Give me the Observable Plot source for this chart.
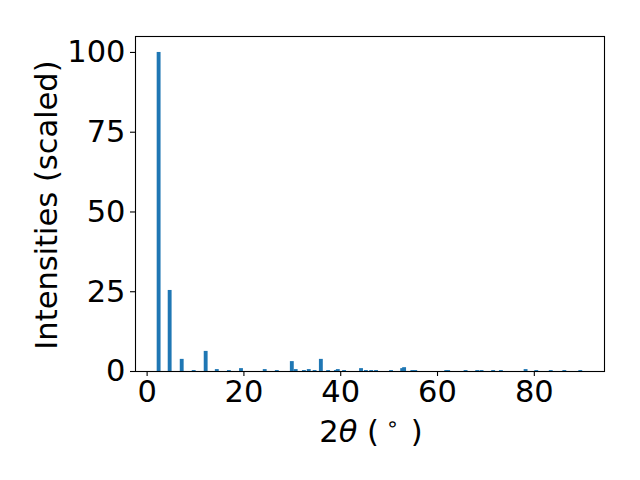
<!DOCTYPE html>
<html><head><meta charset="utf-8">
<script src="https://cdn.jsdelivr.net/npm/d3@7"></script>
<script src="https://cdn.jsdelivr.net/npm/@observablehq/plot@0.6"></script>
<style>body{margin:0;background:#fff}</style>
</head><body><div id="chart"></div>
<script>
const positions = [2.48, 4.76, 7.25, 9.73, 12.2, 14.5, 17.0, 19.5, 24.4, 26.9, 30.0, 30.8, 32.5, 33.5, 34.7, 36.0, 37.5, 39.1, 39.5, 40.8, 44.3, 45.3, 46.4, 47.4, 50.5, 52.8, 53.2, 54.9, 55.5, 61.9, 62.3, 65.9, 68.3, 69.2, 71.6, 73.2, 78.3, 80.5, 83.5, 86.3, 89.6];
const intensities = [100, 25.4, 3.8, 0.3, 6.3, 0.6, 0.3, 0.9, 0.6, 0.3, 3.1, 0.6, 0.3, 0.6, 0.3, 3.8, 0.3, 0.3, 0.6, 0.3, 0.9, 0.3, 0.3, 0.3, 0.3, 0.9, 1.2, 0.3, 0.3, 0.3, 0.3, 0.3, 0.3, 0.3, 0.3, 0.3, 0.6, 0.3, 0.3, 0.3, 0.3];
const xTicks = [0, 20, 40, 60, 80];
const yTicks = [0, 25, 50, 75, 100];
const xLabel = ["2", "θ", " (", "∘", " )"];
const yLabel = "Intensities (scaled)";
const barWidth = 0.8;
const fs = 30.5;
const data = positions.map((p, i) => ({pos: p, intensity: intensities[i]}));

const svg = Plot.plot({
  width: 640, height: 480,
  marginLeft: 135, marginRight: 36, marginTop: 36, marginBottom: 109,
  style: {fontFamily: "DejaVu Sans", fontSize: fs + "px", background: "#fff", color: "#000", overflow: "visible"},
  x: {domain: [-2.4, 94.5]},
  y: {domain: [0, 105]},
  marks: [
    Plot.rectY(data, {x1: d => d.pos - barWidth / 2, x2: d => d.pos + barWidth / 2, y1: 0, y2: "intensity", fill: "#1f77b4"}),
    Plot.frame({stroke: "#000", strokeWidth: 1.1}),
    Plot.axisX({ticks: xTicks, tickSize: 5, tickPadding: 4, fontSize: fs, label: null, strokeWidth: 1.1, stroke: "#000"}),
    Plot.axisY({ticks: yTicks, tickSize: 5, tickPadding: 5, fontSize: fs, label: null, strokeWidth: 1.1, stroke: "#000"})
  ]
});
document.getElementById("chart").appendChild(svg);

const s = d3.select(svg);
const xt = s.append("text")
  .attr("x", 371).attr("y", 442)
  .attr("text-anchor", "middle")
  .attr("font-family", "DejaVu Sans").attr("font-size", fs).attr("fill", "#000");
xt.append("tspan").text(xLabel[0]);
xt.append("tspan").attr("font-style", "italic").text(xLabel[1]);
xt.append("tspan").text(xLabel[2]);
xt.append("tspan").attr("font-size", 21).attr("dy", -11).attr("dx", 7).text(xLabel[3]);
xt.append("tspan").attr("dy", 11).attr("dx", 2).text(xLabel[4]);

s.append("text")
  .attr("transform", "translate(46,205) rotate(-90)")
  .attr("text-anchor", "middle")
  .attr("dominant-baseline", "central")
  .attr("font-family", "DejaVu Sans").attr("font-size", fs).attr("fill", "#000")
  .text(yLabel);
</script>
</body></html>
